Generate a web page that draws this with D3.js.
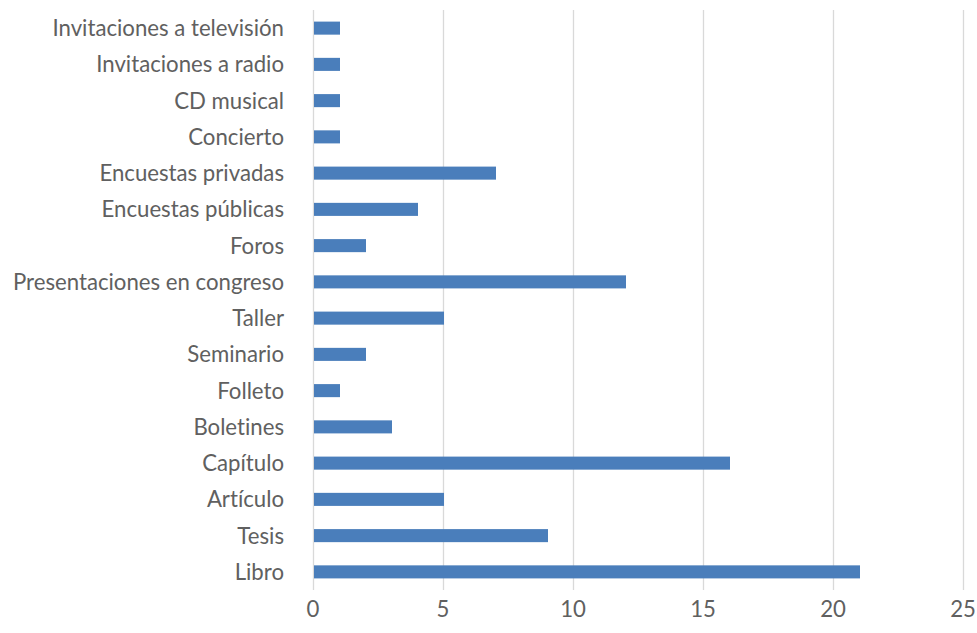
<!DOCTYPE html>
<html>
<head>
<meta charset="utf-8">
<script src="https://cdn.jsdelivr.net/npm/d3@7"></script>
<style>
body { margin: 0; background: #fff; }
text { font-family: Lato, "Open Sans", sans-serif; fill: #606060; font-variant-ligatures: none; }
</style>
</head>
<body>
<div id="container"></div>
<script>
const width = 977;
const height = 633;
const categories = [
    "Invitaciones a televisión", "Invitaciones a radio", "CD musical", "Concierto",
    "Encuestas privadas", "Encuestas públicas", "Foros", "Presentaciones en congreso",
    "Taller", "Seminario", "Folleto", "Boletines", "Capítulo", "Artículo", "Tesis", "Libro"
];
const values = [1, 1, 1, 1, 7, 4, 2, 12, 5, 2, 1, 3, 16, 5, 9, 21];
const ticks = [0, 5, 10, 15, 20, 25];

const m = { top: 10, right: 14, bottom: 43, left: 313 };
const x = d3.scaleLinear().domain([0, 25]).range([m.left, width - m.right]);
const y = d3.scaleBand().domain(categories).range([m.top, height - m.bottom]).paddingInner(0.64).paddingOuter(0.32);

const svg = d3.select("#container")
    .append("svg")
    .attr("width", width)
    .attr("height", height);

svg.append("g")
    .selectAll("line")
    .data(ticks)
    .enter()
    .append("line")
    .attr("x1", (d) => x(d) + 0.5)
    .attr("x2", (d) => x(d) + 0.5)
    .attr("y1", m.top)
    .attr("y2", height - m.bottom)
    .style("stroke", "#d9d9d9")
    .style("stroke-width", 1.3);

svg.append("g")
    .selectAll("rect")
    .data(values)
    .enter()
    .append("rect")
    .attr("x", x(0) + 1)
    .attr("y", (d, i) => y(categories[i]))
    .attr("width", (d) => x(d) - x(0))
    .attr("height", y.bandwidth())
    .style("fill", "#4a7ebb");

svg.append("g")
    .selectAll("text")
    .data(categories)
    .enter()
    .append("text")
    .attr("x", 284)
    .attr("y", (d) => y(d) + y.bandwidth() / 2)
    .attr("dy", "0.36em")
    .attr("text-anchor", "end")
    .style("font-size", "22.2px")
    .text((d) => d);

svg.append("g")
    .selectAll("text")
    .data(ticks)
    .enter()
    .append("text")
    .attr("x", (d) => x(d))
    .attr("y", 609)
    .attr("dy", "0.36em")
    .attr("text-anchor", "middle")
    .style("font-size", "22.2px")
    .text((d) => d);
</script>
</body>
</html>
